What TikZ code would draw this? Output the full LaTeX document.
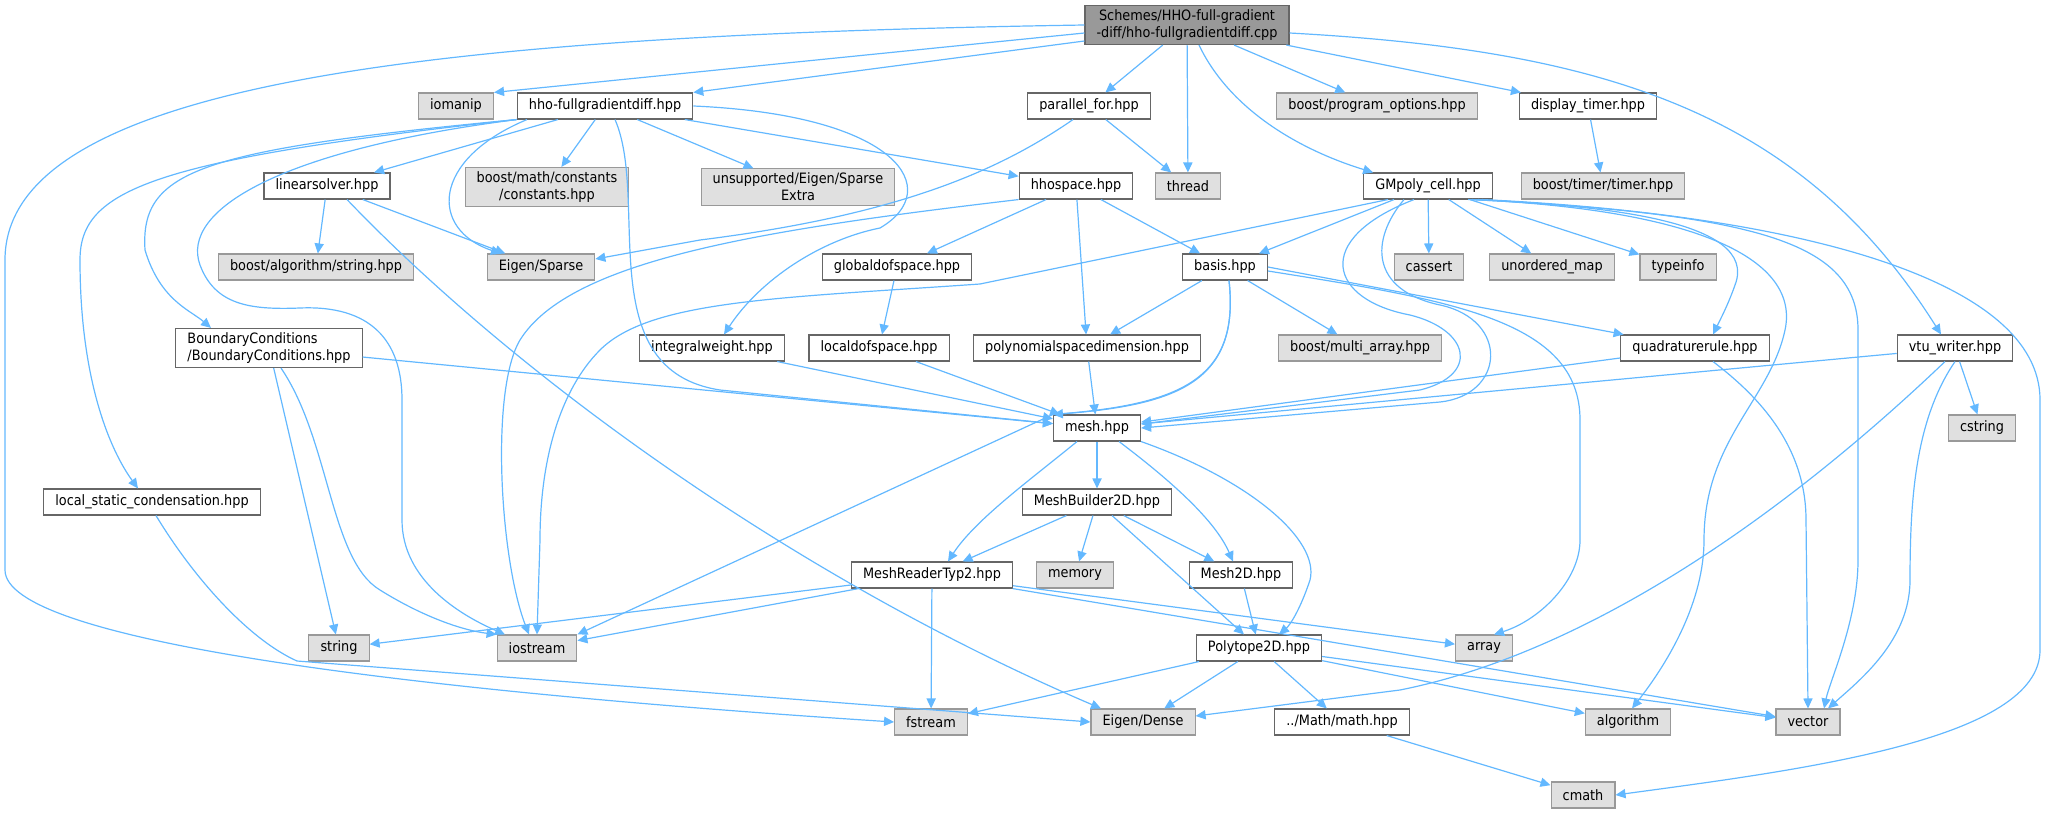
\documentclass[tikz,border=0pt]{standalone}
\usepackage{fontspec}
\setmainfont{DejaVu Sans}[FakeStretch=0.9]
\usetikzlibrary{arrows.meta,calc}

\definecolor{edgeblue}{HTML}{63B8FF}
\definecolor{sysgray}{HTML}{E0E0E0}
\definecolor{sysline}{HTML}{999999}
\definecolor{hdrline}{HTML}{666666}
\definecolor{rootgray}{HTML}{999999}

\begin{document}
\begin{tikzpicture}[x=0.5pt, y=-0.5pt,
    hdr/.style={rectangle, draw=hdrline, fill=white, line width=0.55pt, inner xsep=5.8pt, inner ysep=2pt,
      minimum height=13pt, font=\fontsize{7.15}{8.6}\selectfont, align=center},
    sys/.style={hdr, draw=sysline, fill=sysgray},
    rootfile/.style={hdr, fill=rootgray},
    dep/.style={draw=edgeblue, line width=0.6pt, -{Triangle[length=5pt,width=4.6pt]}}]
        \useasboundingbox (0,0) rectangle (2048,813);

        % Define the files
        \node[rootfile] (root) at (1187,25) {Schemes/HHO-full-gradient\\-diff/hho-fullgradientdiff.cpp};

        \node[sys] (iomanip) at (456,106) {iomanip};
        \node[hdr] (hhofgd) at (605,106) {hho-fullgradientdiff.hpp};
        \node[hdr] (parfor) at (1089,106) {parallel\_for.hpp};
        \node[sys] (progopt) at (1377,106) {boost/program\_options.hpp};
        \node[hdr] (disptimer) at (1588,106) {display\_timer.hpp};

        \node[hdr] (linsolver) at (327,186) {linearsolver.hpp};
        \node[sys] (mathconst) at (547,187) {boost/math/constants\\/constants.hpp};
        \node[sys] (sparseextra) at (798,187) {unsupported/Eigen/Sparse\\Extra};
        \node[hdr] (hhospace) at (1076,186) {hhospace.hpp};
        \node[sys] (thread) at (1188,186) {thread};
        \node[hdr] (gmpoly) at (1428,186) {GMpoly\_cell.hpp};
        \node[sys] (timer) at (1603,186) {boost/timer/timer.hpp};

        \node[sys] (algstring) at (316,267) {boost/algorithm/string.hpp};
        \node[sys] (eigsparse) at (541,267) {Eigen/Sparse};
        \node[hdr] (globaldof) at (897,267) {globaldofspace.hpp};
        \node[hdr] (basis) at (1225,267) {basis.hpp};
        \node[sys] (cassert) at (1429,267) {cassert};
        \node[sys] (umap) at (1552,267) {unordered\_map};
        \node[sys] (typeinfo) at (1678,267) {typeinfo};

        \node[hdr, align=left] (bc) at (269,348) {BoundaryConditions\\/BoundaryConditions.hpp};
        \node[hdr] (intweight) at (712,348) {integralweight.hpp};
        \node[hdr] (localdof) at (879,348) {localdofspace.hpp};
        \node[hdr] (polydim) at (1087,348) {polynomialspacedimension.hpp};
        \node[sys] (multiarray) at (1360,348) {boost/multi\_array.hpp};
        \node[hdr] (quadrule) at (1695,348) {quadraturerule.hpp};
        \node[hdr] (vtu) at (1955,348) {vtu\_writer.hpp};

        \node[hdr] (mesh) at (1097,428) {mesh.hpp};
        \node[sys] (cstring) at (1982,428) {cstring};

        \node[hdr] (lsc) at (152,502) {local\_static\_condensation.hpp};
        \node[hdr] (meshbuilder) at (1097,502) {MeshBuilder2D.hpp};

        \node[hdr] (meshreader) at (932,575) {MeshReaderTyp2.hpp};
        \node[sys] (memory) at (1075,575) {memory};
        \node[hdr] (mesh2d) at (1241,575) {Mesh2D.hpp};

        \node[sys] (string) at (339,648) {string};
        \node[sys] (iostream) at (537,648) {iostream};
        \node[hdr] (polytope) at (1259,648) {Polytope2D.hpp};
        \node[sys] (array) at (1484,648) {array};

        \node[sys] (fstream) at (931,722) {fstream};
        \node[sys] (eigdense) at (1143,722) {Eigen/Dense};
        \node[hdr] (mathhpp) at (1342,722) {../Math/math.hpp};
        \node[sys] (algorithm) at (1628,722) {algorithm};
        \node[sys] (vector) at (1808,722) {vector};

        \node[sys] (cmath) at (1583,795) {cmath};

        % Define the includes
        \draw[dep] (root.west) .. controls (450,35) and (5,80) .. (5,260) -- (5,570) .. controls (5,640) and (400,690) .. (fstream.west);
        \draw[dep] ([yshift=-4pt]root.west) -- (iomanip.north east);
        \draw[dep] ([yshift=-8pt]root.west) -- (hhofgd.north east);
        \draw[dep] (root) -- (parfor);
        \draw[dep] (root) -- (thread);
        \draw[dep] ([xshift=6pt]root.south) .. controls (1230,110) and (1300,150) .. ([xshift=5pt]gmpoly.north west);
        \draw[dep] (root) -- (progopt);
        \draw[dep] (root) -- (disptimer);
        \draw[dep] ([yshift=-4pt]root.east) .. controls (1600,50) and (1800,110) .. ([xshift=-7pt]vtu.north);

        \draw[dep] (hhofgd) -- (linsolver);
        \draw[dep] (hhofgd) -- (mathconst);
        \draw[dep] (hhofgd) -- (sparseextra);
        \draw[dep] (hhofgd) -- (hhospace);
        \draw[dep] ([xshift=-39pt]hhofgd.south) .. controls (430,160) and (430,230) .. ([xshift=-20pt]eigsparse.north);
        \draw[dep] ([xshift=5pt]hhofgd.south) .. controls (650,200) and (590,370) .. (720,390) -- (mesh);
        \draw[dep] (hhofgd.east) .. controls (900,115) and (945,190) .. (880,228) .. controls (820,240) and (760,280) .. ([xshift=6pt]intweight.north);
        \draw[dep] (hhofgd.south west) .. controls (200,150) and (140,170) .. (145,250) .. controls (160,300) and (190,310) .. ([xshift=-29pt]bc.north);
        \draw[dep] (hhofgd.south west) .. controls (150,160) and (80,190) .. (80,260) .. controls (80,380) and (110,450) .. ([xshift=-7pt]lsc.north);
        \draw[dep] (hhofgd.south west) .. controls (280,150) and (180,210) .. (200,265) .. controls (215,305) and (250,310) .. (300,308) .. controls (370,305) and (402,340) .. (402,400) -- (402,520) .. controls (402,580) and (460,615) .. ([xshift=-16pt]iostream.north);

        \draw[dep] (parfor) -- (thread);
        \draw[dep] ([xshift=-8pt]parfor.south) .. controls (1000,170) and (900,215) .. (700,240) -- ([yshift=4pt]eigsparse.east);
        \draw[dep] (disptimer) -- (timer);

        \draw[dep] (linsolver) -- (algstring);
        \draw[dep] (linsolver) -- (eigsparse);
        \draw[dep] ([xshift=10pt]linsolver.south) .. controls (520,380) and (800,580) .. ([xshift=-21pt]eigdense.north);

        \draw[dep] (hhospace) -- (globaldof);
        \draw[dep] (hhospace) -- (polydim);
        \draw[dep] (hhospace) -- (basis);
        \draw[dep] (hhospace.south west) .. controls (760,230) and (570,260) .. (520,340) .. controls (490,390) and (500,560) .. ([xshift=-4pt]iostream.north);

        \draw[dep] (gmpoly) -- (cassert);
        \draw[dep] (gmpoly) -- (umap);
        \draw[dep] (gmpoly) -- (typeinfo);
        \draw[dep] (gmpoly) -- (basis);
        \draw[dep] ([xshift=-20pt]gmpoly.south) -- (980,284) .. controls (780,298) and (650,300) .. (600,350) .. controls (560,390) and (540,460) .. (540,540) -- (iostream.north);
        \draw[dep] ([xshift=-7pt]gmpoly.south) .. controls (1310,240) and (1330,300) .. (1410,315) .. controls (1470,330) and (1480,375) .. (1420,390) -- ([yshift=2pt]mesh.east);
        \draw[dep] ([xshift=-12pt]gmpoly.south) .. controls (1370,240) and (1370,290) .. (1440,305) .. controls (1510,320) and (1505,395) .. (1440,402) -- (mesh.east);
        \draw[dep] ([xshift=20pt]gmpoly.south) .. controls (1600,205) and (1760,220) .. (1735,285) .. controls (1728,305) and (1720,320) .. ([xshift=9pt]quadrule.north);
        \draw[dep] ([xshift=22pt]gmpoly.south) .. controls (1700,210) and (1800,260) .. (1785,330) .. controls (1770,400) and (1704,440) .. (1704,540) .. controls (1704,600) and (1670,660) .. ([xshift=2pt]algorithm.north);
        \draw[dep] ([xshift=25pt]gmpoly.south) .. controls (1750,215) and (1858,240) .. (1858,330) -- (1858,560) .. controls (1858,620) and (1830,680) .. ([xshift=8pt]vector.north);
        \draw[dep] ([xshift=27pt]gmpoly.south) .. controls (1800,215) and (2040,280) .. (2040,400) -- (2040,650) .. controls (2040,740) and (1800,770) .. (cmath.east);

        \draw[dep] (basis) -- (polydim);
        \draw[dep] (basis) -- (multiarray);
        \draw[dep] (basis.east) -- (quadrule);
        \draw[dep] ([xshift=2pt]basis.south) .. controls (1240,380) and (1180,405) .. (mesh.north west);
        \draw[dep] ([xshift=2pt]basis.south) .. controls (1240,380) and (1180,405) .. (mesh.north west) -- (iostream.north east);
        \draw[dep] ([yshift=-2pt]basis.east) .. controls (1450,300) and (1580,320) .. (1580,420) -- (1580,540) .. controls (1580,580) and (1540,620) .. ([xshift=5pt]array.north);

        \draw[dep] (polydim) -- (mesh);
        \draw[dep] (intweight) -- (mesh);
        \draw[dep] (localdof) -- (mesh);
        \draw[dep] (globaldof) -- (localdof);

        \draw[dep] (quadrule) -- (mesh);
        \draw[dep] ([xshift=9pt]quadrule.south) .. controls (1750,390) and (1806,440) .. (1806,520) -- (vector.north);

        \draw[dep] (vtu) -- (mesh);
        \draw[dep] (vtu) -- (cstring);
        \draw[dep] ([xshift=-5pt]vtu.south) .. controls (1800,500) and (1600,650) .. (1400,690) -- ([yshift=3pt]eigdense.east);
        \draw[dep] (vtu.south) .. controls (1915,420) and (1910,500) .. (1910,580) .. controls (1910,640) and (1860,680) .. ([xshift=10pt]vector.north);

        \draw[dep] (mesh) -- (meshbuilder);
        \draw[dep] ([xshift=-10pt]mesh.south) .. controls (1030,480) and (975,520) .. ([xshift=8pt]meshreader.north);
        \draw[dep] ([xshift=11pt]mesh.south) .. controls (1170,480) and (1215,520) .. ([xshift=-4pt]mesh2d.north);
        \draw[dep] (mesh.south east) .. controls (1250,480) and (1320,540) .. (1310,580) .. controls (1300,610) and (1290,625) .. ([xshift=10pt]polytope.north);

        \draw[dep] (meshbuilder) -- (meshreader);
        \draw[dep] (meshbuilder) -- (memory);
        \draw[dep] (meshbuilder) -- (mesh2d);
        \draw[dep] (meshbuilder) -- (polytope);

        \draw[dep] (meshreader) -- (string);
        \draw[dep] (meshreader) -- (iostream);
        \draw[dep] (meshreader) -- (fstream);
        \draw[dep] (meshreader) -- (array);
        \draw[dep] (meshreader) -- (vector);

        \draw[dep] (mesh2d) -- (polytope);

        \draw[dep] (polytope) -- (fstream);
        \draw[dep] (polytope) -- (eigdense);
        \draw[dep] (polytope) -- (mathhpp);
        \draw[dep] (polytope) -- (algorithm);
        \draw[dep] (polytope) -- (vector);

        \draw[dep] (mathhpp) -- (cmath);

        \draw[dep] ([xshift=2pt]lsc.south) .. controls (195,580) and (250,640) .. (297,661) -- (eigdense.west);

        \draw[dep] (bc) -- (mesh);
        \draw[dep] (bc) -- (string);
        \draw[dep] ([xshift=6pt]bc.south) .. controls (330,440) and (330,560) .. (380,590) .. controls (420,615) and (460,630) .. (iostream.north west);

    \end{tikzpicture}
\end{document}
